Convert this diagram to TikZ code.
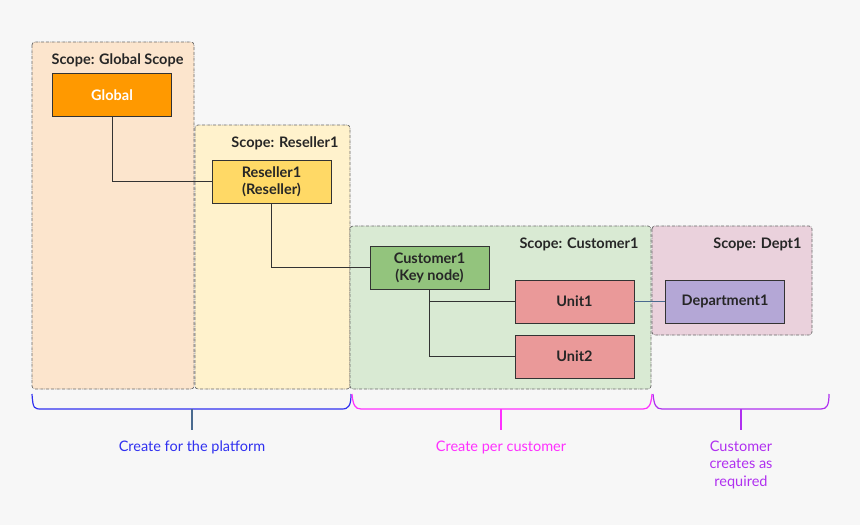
\documentclass[tikz,border=0pt]{standalone}
\usepackage{fontspec}
\setmainfont{Lato}
\usepackage{xcolor}
\usetikzlibrary{positioning, calc}

\definecolor{pagebg}{HTML}{F7F7F7}
\definecolor{peach}{HTML}{FCE5CD}
\definecolor{cream}{HTML}{FFF2CC}
\definecolor{mint}{HTML}{D9EAD3}
\definecolor{blush}{HTML}{EAD1DC}
\definecolor{globalc}{HTML}{FF9900}
\definecolor{resellerc}{HTML}{FFD966}
\definecolor{customerc}{HTML}{93C47D}
\definecolor{unitc}{HTML}{EA9999}
\definecolor{deptc}{HTML}{B4A7D6}
\definecolor{steel}{HTML}{4A6A8F}
\definecolor{platblue}{HTML}{3030F0}
\definecolor{permag}{HTML}{FF30FF}
\definecolor{reqpurple}{HTML}{B030F0}

\begin{document}
\begin{tikzpicture}[x=1pt, y=-1pt,
    scopebox/.style={draw=black!60, densely dash dot, rounded corners=3pt, line width=0.7pt},
    scopelabel/.style={anchor=east, font=\fontsize{14.5}{16}\selectfont\bfseries, text=black!85},
    entity/.style={draw=black!80, line width=0.8pt, minimum width=119pt, minimum height=43pt,
        align=center, font=\fontsize{14.5}{17}\selectfont\bfseries, text=black!85},
    link/.style={draw=black!80, line width=0.8pt},
    brace/.style={line width=1.2pt},
    note/.style={align=center, font=\fontsize{14.5}{17.5}\selectfont}]
\fill[pagebg] (0,0) rectangle (860,525);
\useasboundingbox (0,0) rectangle (860,525);

% scopes
\draw[scopebox, fill=peach] (32,42) rectangle (194,389);
\draw[scopebox, fill=cream] (195,125) rectangle (350,389);
\draw[scopebox, fill=mint] (350,226) rectangle (651,389);
\draw[scopebox, fill=blush] (652,226) rectangle (812,335);
\node[scopelabel] (sglobal) at (187,60) {Scope: Global Scope};
\node[scopelabel] (sres) at (342,143) {Scope: Reseller1};
\node[scopelabel] (scust) at (642,244) {Scope: Customer1};
\node[scopelabel] (sdept) at (805,244) {Scope: Dept1};

% entities
\node[entity, fill=globalc, text=white] (global) at (112,95) {Global};
\node[entity, fill=resellerc] (res) at (271.5,181.5) {Reseller1\\(Reseller)};
\node[entity, fill=customerc] (cust) at (429.5,267.5) {Customer1\\(Key node)};
\node[entity, fill=unitc] (unit1) at (574.5,301.5) {Unit1};
\node[entity, fill=unitc] (unit2) at (574.5,356.5) {Unit2};
\node[entity, fill=deptc] (dept) at (725,301.5) {Department1};

% links
\draw[link] (global.south) |- (res.west);
\draw[link] (res.south) |- (cust.west);
\draw[link] (cust.south) |- (unit1.west);
\draw[link] (cust.south) |- (unit2.west);
\draw[link, draw=steel] (unit1) -- (dept);

% braces
\draw[brace, platblue] (32,394) .. controls (33,409) and (34,409) .. (42,409) -- (342,409) .. controls (349,409) and (351,405) .. (351,394);
\draw[brace, permag] (352,394) .. controls (353,405) and (355,409) .. (361,409) -- (643,409) .. controls (649,409) and (651,405) .. (652,394);
\draw[brace, reqpurple] (653,394) .. controls (654,405) and (656,409) .. (662,409) -- (821,409) .. controls (827,409) and (829,405) .. (829,394);
\coordinate (bplat) at (192,409);
\coordinate (bper) at (501,409);
\coordinate (breq) at (741,409);

% notes
\node[note, text=platblue] (nplat) at (192,447) {Create for the platform};
\node[note, text=permag] (nper) at (501,447) {Create per customer};
\node[note, text=reqpurple, anchor=north] (nreq) at (741,437) {Customer\\creates as\\required};
\draw[brace, steel] (bplat) -- ++(0,21);
\draw[brace, permag] (bper) -- ++(0,21);
\draw[brace, reqpurple] (breq) -- ++(0,21);
\end{tikzpicture}
\end{document}
